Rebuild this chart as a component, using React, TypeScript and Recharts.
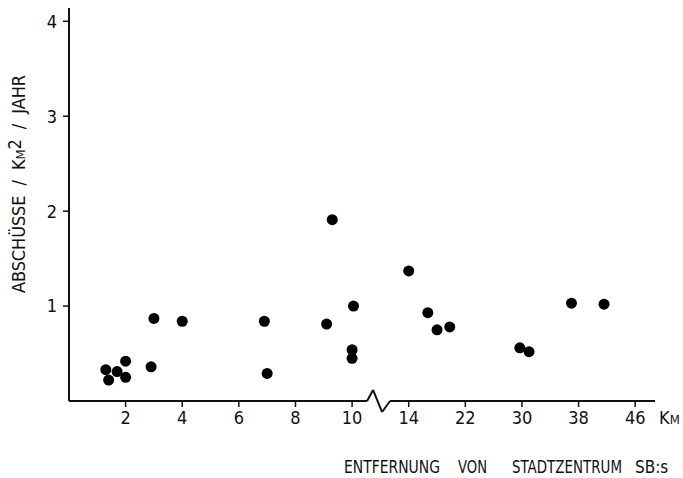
import { ScatterChart, Scatter, XAxis, YAxis, ReferenceLine } from 'recharts';

// distance from city centre (km) and shots per km² per year
const distanceKm = [1.3, 1.4, 1.7, 2.0, 2.0, 2.9, 3.0, 4.0, 6.9, 7.0, 9.1, 9.3, 10.05, 10.0, 10.0, 14.0, 16.7, 18.0, 19.8, 29.7, 31.0, 37.0, 41.6];
const shotsPerKm2 = [0.33, 0.22, 0.31, 0.42, 0.25, 0.36, 0.87, 0.84, 0.84, 0.29, 0.81, 1.91, 1.0, 0.54, 0.45, 1.37, 0.93, 0.75, 0.78, 0.56, 0.52, 1.03, 1.02];

const xTickKm = [2, 4, 6, 8, 10, 14, 22, 30, 38, 46];
const yTicks = [1, 2, 3, 4];

// broken axis: 0–10 km linear, then 14–46 km compressed by a factor of 4
const axisPos = (km: number) => (km <= 12 ? km : 12 + (km - 14) / 4);
const posToKm = (p: number) => (p <= 10 ? p : 14 + (p - 12) * 4);

const data = distanceKm.map((km, i) => ({ pos: axisPos(km), value: shotsPerKm2[i] }));

const FONT = '"DejaVu Sans Condensed", "DejaVu Sans", sans-serif';

const Dot = (p: any) => <circle cx={p.cx} cy={p.cy} r={5.5} fill="#000" />;

const XTitles = () => (
  <g fontFamily={FONT} fill="#111">
    <text x={659} y={424} fontSize={18}>
      K<tspan fontSize={13}>M</tspan>
    </text>
    <g fontSize={17}>
      <text x={344} y={473} textLength={96} lengthAdjust="spacingAndGlyphs">ENTFERNUNG</text>
      <text x={458} y={473} textLength={29} lengthAdjust="spacingAndGlyphs">VON</text>
      <text x={512} y={473} textLength={110} lengthAdjust="spacingAndGlyphs">STADTZENTRUM</text>
      <text x={635} y={473}>SB:s</text>
    </g>
  </g>
);

const YTitle = () => (
  <text
    x={75}
    y={25}
    fontSize={18}
    fontFamily={FONT}
    fill="#111"
    transform="rotate(-90) translate(-368 0)"
    textLength={218}
    lengthAdjust="spacing"
    style={{ whiteSpace: 'pre' }}
  >
    ABSCHÜSSE  /  K<tspan fontSize={13}>M</tspan><tspan dy={-4}>2</tspan><tspan dy={4}>  /  JAHR</tspan>
  </text>
);

const tickStyle = { fontFamily: FONT, fontSize: 18, fill: '#111' };

export default function App() {
  return (
    <div style={{ position: 'absolute', left: 0, top: 0, background: '#fff' }}>
      <ScatterChart width={683} height={478} margin={{ top: 8, right: 28, bottom: 47, left: 0 }}>
        <XAxis
          type="number"
          dataKey="pos"
          domain={[0, 20.7]}
          ticks={xTickKm.map(axisPos)}
          tickFormatter={(v: number) => String(Math.round(posToKm(v)))}
          axisLine={false}
          tickLine={{ stroke: '#111', strokeWidth: 1.5 }}
          tickSize={6}
          tickMargin={4}
          height={30}
          tick={tickStyle}
          interval={0}
          label={<XTitles />}
        />
        <YAxis
          type="number"
          dataKey="value"
          domain={[0, 4.14]}
          ticks={yTicks}
          width={69}
          axisLine={{ stroke: '#111', strokeWidth: 2 }}
          tickLine={{ stroke: '#111', strokeWidth: 1.5 }}
          tickSize={6}
          tickMargin={6}
          tick={tickStyle}
          label={<YTitle />}
        />
        <ReferenceLine segment={[{ x: 0, y: 0 }, { x: 10.53, y: 0 }]} stroke="#111" strokeWidth={2} ifOverflow="visible" />
        <ReferenceLine segment={[{ x: 10.53, y: 0 }, { x: 10.74, y: 0.116 }]} stroke="#111" strokeWidth={2} ifOverflow="visible" />
        <ReferenceLine segment={[{ x: 10.74, y: 0.116 }, { x: 11.06, y: -0.116 }]} stroke="#111" strokeWidth={2} ifOverflow="visible" />
        <ReferenceLine segment={[{ x: 11.06, y: -0.116 }, { x: 11.34, y: 0 }]} stroke="#111" strokeWidth={2} ifOverflow="visible" />
        <ReferenceLine segment={[{ x: 11.34, y: 0 }, { x: 20.7, y: 0 }]} stroke="#111" strokeWidth={2} ifOverflow="visible" />
        <Scatter data={data} shape={Dot} isAnimationActive={false} />
      </ScatterChart>
    </div>
  );
}
